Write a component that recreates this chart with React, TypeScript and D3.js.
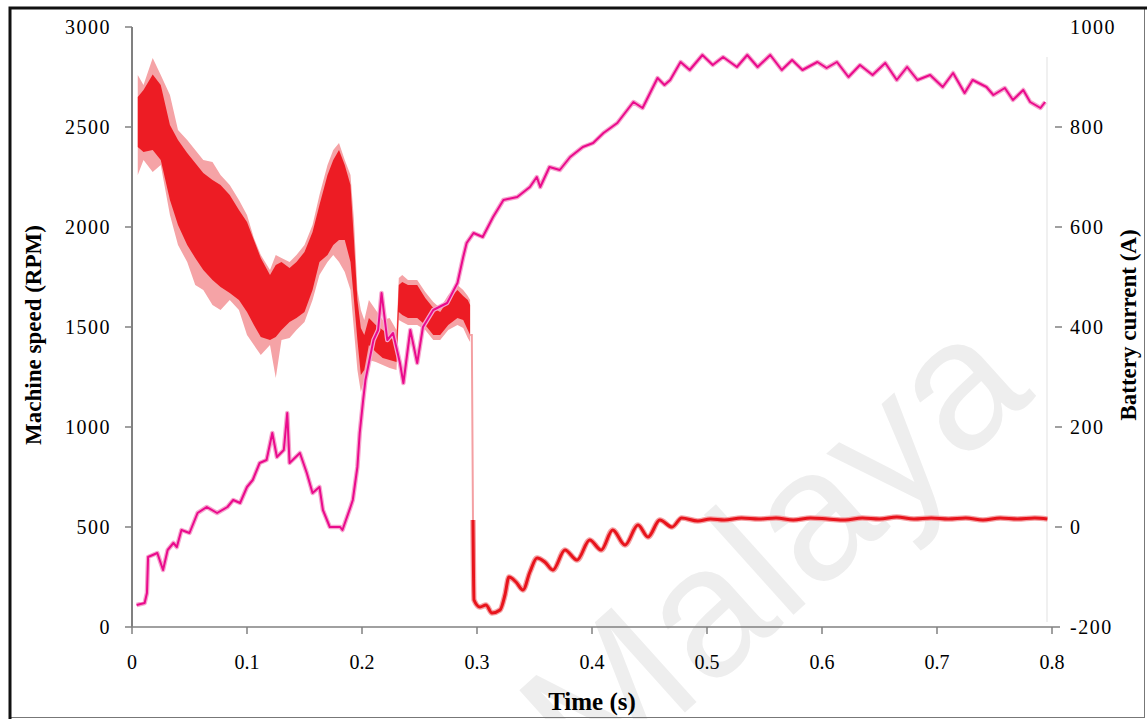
import { useEffect, useRef } from 'react';
import * as d3 from 'd3';

const W = 1147;
const H = 719;
const margin = { left: 132, right: 95, top: 27, bottom: 92 };

// axis ticks
const timeTicks = [0, 0.1, 0.2, 0.3, 0.4, 0.5, 0.6, 0.7, 0.8];
const speedTicks = [0, 500, 1000, 1500, 2000, 2500, 3000];
const currentTicks = [-200, 0, 200, 400, 600, 800, 1000];

// machine speed (RPM), left axis
const speedTime = [
  0.004, 0.011, 0.013, 0.014, 0.022, 0.027, 0.031, 0.036, 0.039, 0.043, 0.05, 0.057, 0.065, 0.074,
  0.083, 0.088, 0.094, 0.1, 0.105, 0.111, 0.117, 0.122, 0.126, 0.132, 0.135, 0.137, 0.146, 0.152,
  0.157, 0.163, 0.166, 0.172, 0.181, 0.183, 0.19, 0.192, 0.196, 0.198, 0.201, 0.203, 0.207, 0.21,
  0.214, 0.217, 0.222, 0.227, 0.233, 0.236, 0.242, 0.248, 0.253, 0.262, 0.274, 0.283, 0.288, 0.291,
  0.297, 0.305, 0.314, 0.323, 0.335, 0.346, 0.352, 0.355, 0.363, 0.372, 0.381, 0.392, 0.401, 0.41,
  0.422, 0.436, 0.444, 0.457, 0.463, 0.468, 0.477, 0.485, 0.496, 0.505, 0.514, 0.526, 0.535, 0.544,
  0.555, 0.565, 0.574, 0.583, 0.596, 0.604, 0.613, 0.623, 0.633, 0.644, 0.655, 0.665, 0.674, 0.683,
  0.694, 0.705, 0.714, 0.724, 0.731, 0.743, 0.749, 0.759, 0.766, 0.775, 0.781, 0.79, 0.794,
];
const speedRpm = [
  110, 120, 170, 350, 370, 285, 385, 420, 400, 485, 470, 570, 600, 570,
  600, 635, 620, 700, 735, 820, 835, 970, 850, 885, 1070, 820, 870, 770,
  670, 700, 585, 500, 500, 485, 600, 635, 800, 970, 1135, 1235, 1350, 1435,
  1485, 1670, 1435, 1470, 1320, 1220, 1485, 1320, 1500, 1585, 1620, 1720, 1850, 1920,
  1970, 1950, 2050, 2135, 2150, 2200, 2250, 2200, 2300, 2285, 2350, 2400, 2420, 2470,
  2520, 2625, 2595, 2745, 2710, 2735, 2825, 2785, 2860, 2810, 2850, 2800, 2860, 2800,
  2860, 2785, 2835, 2785, 2825, 2795, 2825, 2750, 2810, 2760, 2820, 2735, 2800, 2735,
  2760, 2700, 2770, 2670, 2735, 2700, 2660, 2695, 2635, 2685, 2625, 2595, 2625,
];

// battery current (A), right axis: oscillating band up to the switch-off
const bandTime = [
  0.005, 0.01, 0.018, 0.025, 0.033, 0.04, 0.048, 0.055, 0.062, 0.07, 0.077, 0.085, 0.093, 0.1,
  0.106, 0.112, 0.12, 0.125, 0.13, 0.137, 0.143, 0.15, 0.157, 0.163, 0.17, 0.175, 0.18, 0.185,
  0.19, 0.193, 0.196, 0.199, 0.202, 0.206, 0.212, 0.218, 0.224, 0.23, 0.232, 0.235, 0.24, 0.248,
  0.255, 0.262, 0.268, 0.275, 0.283, 0.288, 0.292, 0.294,
];
const bandHigh = [
  860, 874, 905, 884, 804, 774, 748, 728, 708, 694, 684, 664, 634, 610,
  574, 538, 504, 524, 530, 518, 530, 550, 590, 644, 704, 734, 754, 724,
  684, 574, 454, 398, 384, 418, 404, 394, 384, 374, 484, 490, 484, 484,
  458, 438, 430, 454, 474, 462, 454, 444,
];
const bandLow = [
  760, 750, 754, 734, 654, 604, 564, 538, 514, 494, 480, 468, 454, 430,
  404, 380, 374, 380, 394, 410, 418, 430, 474, 530, 544, 564, 574, 574,
  530, 454, 374, 304, 314, 364, 350, 338, 334, 330, 430, 424, 418, 418,
  404, 384, 384, 404, 418, 414, 394, 384,
];
const spikeHigh = [
  904, 884, 938, 904, 864, 794, 774, 754, 734, 730, 704, 684, 654, 624,
  578, 544, 514, 544, 538, 530, 544, 564, 604, 664, 724, 754, 768, 734,
  704, 614, 474, 434, 414, 454, 434, 414, 418, 394, 498, 504, 494, 494,
  470, 450, 438, 464, 484, 474, 462, 454,
];
const spikeLow = [
  704, 734, 710, 724, 624, 564, 530, 484, 474, 444, 434, 454, 434, 384,
  364, 344, 364, 298, 374, 378, 394, 410, 454, 504, 530, 544, 530, 510,
  474, 394, 314, 270, 294, 334, 330, 324, 318, 314, 414, 410, 404, 404,
  394, 374, 374, 394, 404, 398, 378, 370,
];

// current drop and settling afterwards
const dropTime = [0.294, 0.2955, 0.2965];
const dropCurrent = [384, 384, 14];
const tailTime = [
  0.2965, 0.2974, 0.3026, 0.3078, 0.313, 0.32, 0.3243, 0.3278, 0.3339, 0.34, 0.346, 0.3522, 0.359,
  0.366, 0.3765, 0.387, 0.398, 0.408, 0.418, 0.4287, 0.44, 0.4487, 0.459, 0.4696, 0.478, 0.492,
  0.503, 0.515, 0.53, 0.545, 0.56, 0.575, 0.59, 0.605, 0.62, 0.635, 0.65, 0.665, 0.68, 0.695, 0.71,
  0.725, 0.74, 0.755, 0.77, 0.785, 0.796,
];
const tailCurrent = [
  14, -146, -160, -156, -172, -166, -136, -100, -110, -126, -90, -62, -70,
  -86, -46, -66, -26, -46, -6, -36, 4, -20, 14, 0, 18, 12,
  16, 14, 18, 16, 18, 14, 18, 16, 14, 18, 16, 20, 16, 18, 16,
  18, 14, 18, 16, 18, 16,
];

export default function App() {
  const svgRef = useRef<SVGSVGElement>(null);

  useEffect(() => {
    if (!svgRef.current) return;
    const svg = d3.select(svgRef.current);
    svg.selectAll('*').remove();

    const x = d3.scaleLinear().domain([0, 0.8]).range([margin.left, W - margin.right]);
    const yL = d3.scaleLinear().domain([0, 3000]).range([H - margin.bottom, margin.top]);
    const yR = d3.scaleLinear().domain([-200, 1000]).range([H - margin.bottom, margin.top]);
    const x0 = H - margin.bottom;

    svg.append('rect').attr('width', W).attr('height', H).attr('fill', '#fff');

    // watermark
    svg.append('text')
      .attr('transform', 'translate(772,548) rotate(-42)')
      .attr('text-anchor', 'middle')
      .attr('dominant-baseline', 'central')
      .style('font-family', '"Liberation Sans", Arial, sans-serif')
      .style('font-size', '185px')
      .style('fill', '#eeeeee')
      .text('Malaya');

    // frame
    svg.append('rect')
      .attr('x', 10.5).attr('y', 8.5).attr('width', 1134).attr('height', 709)
      .attr('fill', 'none').attr('stroke', '#777').attr('stroke-width', 1);
    svg.append('path').attr('d', 'M10,719V8H1147').attr('fill', 'none')
      .attr('stroke', '#111').attr('stroke-width', 3);

    const font = '"Liberation Serif", "Times New Roman", serif';

    // left axis
    svg.append('line').attr('x1', margin.left).attr('x2', margin.left)
      .attr('y1', yL(3000)).attr('y2', x0).attr('stroke', '#808080').attr('stroke-width', 2);
    const lt = svg.append('g').selectAll('g').data(speedTicks).join('g')
      .attr('transform', d => `translate(0,${yL(d)})`);
    lt.append('line').attr('x1', margin.left - 7).attr('x2', margin.left)
      .attr('stroke', '#808080').attr('stroke-width', 1.5);
    lt.append('text').attr('x', 111).attr('dy', '0.34em').attr('text-anchor', 'end')
      .style('font-family', font).style('font-size', '20px').style('letter-spacing', '1.5px')
      .text(d => d);

    // right axis (faint line, ticks offset)
    svg.append('line').attr('x1', 1047).attr('x2', 1047).attr('y1', yR(940)).attr('y2', yR(-190))
      .attr('stroke', '#f0f0f0').attr('stroke-width', 2);
    const rt = svg.append('g').selectAll('g').data(currentTicks).join('g')
      .attr('transform', d => `translate(0,${yR(d)})`);
    rt.filter(d => d !== -200 && d !== 1000).append('line').attr('x1', 1055).attr('x2', 1062)
      .attr('stroke', '#808080').attr('stroke-width', 1.5);
    rt.append('text').attr('x', 1070).attr('dy', '0.34em')
      .style('font-family', font).style('font-size', '20px').style('letter-spacing', '1.5px')
      .text(d => d);

    // x axis
    svg.append('line').attr('x1', margin.left).attr('x2', 1060).attr('y1', x0).attr('y2', x0)
      .attr('stroke', '#808080').attr('stroke-width', 1.5);
    const bt = svg.append('g').selectAll('g').data(timeTicks).join('g')
      .attr('transform', d => `translate(${x(d)},${x0})`);
    bt.append('line').attr('y1', 0).attr('y2', 7).attr('stroke', '#808080').attr('stroke-width', 1.5);
    bt.append('text').attr('y', 42).attr('text-anchor', 'middle')
      .style('font-family', font).style('font-size', '20px')
      .text(d => d);

    // titles
    svg.append('text').attr('transform', 'translate(41,335) rotate(-90)').attr('text-anchor', 'middle')
      .style('font-family', font).style('font-size', '23px').style('font-weight', 'bold')
      .text('Machine speed (RPM)');
    svg.append('text').attr('transform', 'translate(1136,325) rotate(-90)').attr('text-anchor', 'middle')
      .style('font-family', font).style('font-size', '23px').style('font-weight', 'bold')
      .text('Battery current (A)');
    svg.append('text').attr('x', 592).attr('y', 710).attr('text-anchor', 'middle')
      .style('font-family', font).style('font-size', '25px').style('font-weight', 'bold')
      .text('Time (s)');

    // current band
    const bandIdx = d3.range(bandTime.length);
    const spikeArea = d3.area<number>()
      .x(i => x(bandTime[i])).y0(i => yR(spikeLow[i])).y1(i => yR(spikeHigh[i]));
    const bandArea = d3.area<number>()
      .x(i => x(bandTime[i])).y0(i => yR(bandLow[i])).y1(i => yR(bandHigh[i]));
    svg.append('path').datum(bandIdx).attr('d', spikeArea).attr('fill', '#f5a3a6');
    svg.append('path').datum(bandIdx).attr('d', bandArea).attr('fill', '#ed1c24');

    // speed
    const speedLine = d3.line<number>().x(i => x(speedTime[i])).y(i => yL(speedRpm[i]));
    const sIdx = d3.range(speedTime.length);
    svg.append('path').datum(sIdx).attr('d', speedLine).attr('fill', 'none')
      .attr('stroke', '#f6a6cf').attr('stroke-width', 4.5).attr('stroke-linejoin', 'round');
    svg.append('path').datum(sIdx).attr('d', speedLine).attr('fill', 'none')
      .attr('stroke', '#ea0a8c').attr('stroke-width', 2).attr('stroke-linejoin', 'round');

    // current drop and tail
    const dropLine = d3.line<number>().x(i => x(dropTime[i])).y(i => yR(dropCurrent[i]));
    svg.append('path').datum(d3.range(dropTime.length)).attr('d', dropLine).attr('fill', 'none')
      .attr('stroke', '#f4a0a3').attr('stroke-width', 2);
    const tailLine = d3.line<number>().x(i => x(tailTime[i])).y(i => yR(tailCurrent[i]))
      .curve(d3.curveMonotoneX);
    const tIdx = d3.range(tailTime.length);
    svg.append('path').datum(tIdx).attr('d', tailLine).attr('fill', 'none')
      .attr('stroke', '#f4a3a6').attr('stroke-width', 5.5);
    svg.append('path').datum(tIdx).attr('d', tailLine).attr('fill', 'none')
      .attr('stroke', '#e8141c').attr('stroke-width', 3);
  }, []);

  return (
    <svg ref={svgRef} width={W} height={H}
      style={{ position: 'absolute', left: 0, top: 0, display: 'block' }} />
  );
}
